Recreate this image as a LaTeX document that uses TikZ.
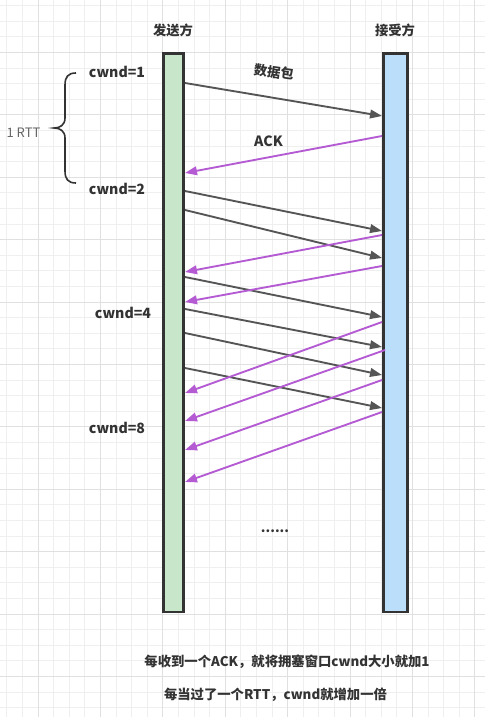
\documentclass[tikz,border=0pt]{standalone}
\usepackage{fontspec}
\setmainfont{Noto Sans CJK SC}
\usetikzlibrary{arrows.meta}
\definecolor{greenfill}{HTML}{C8E6C9}
\definecolor{bluefill}{HTML}{BBDEFB}
\definecolor{ackcol}{HTML}{B45AD2}
\definecolor{datacol}{HTML}{555555}
\definecolor{edgecol}{HTML}{333333}
\definecolor{txtcol}{HTML}{333333}
\definecolor{rttcol}{HTML}{666666}
\definecolor{gridminorcol}{HTML}{EFEFEF}
\definecolor{gridmajorcol}{HTML}{E0E0E0}
\begin{document}
\begin{tikzpicture}[x=0.75pt,y=-0.75pt,
  bar/.style={draw=edgecol, line width=1.9pt, inner sep=0pt, minimum height=418.9pt},
  lbl/.style={text=txtcol, font=\fontsize{10}{12}\selectfont\bfseries, inner sep=1pt},
  cwndlbl/.style={text=txtcol, font=\fontsize{10.6}{12}\selectfont\bfseries, inner sep=1pt},
  rtt/.style={text=rttcol, font=\fontsize{9.75}{12}\selectfont, inner sep=1pt},
  datarrow/.style={draw=datacol, line width=1.4pt, -{Triangle[length=9pt,width=6.5pt]}},
  ackarrow/.style={draw=ackcol, line width=1.4pt, -{Triangle[length=9pt,width=6.5pt]}},
  gminor/.style={draw=gridminorcol, line width=0.75pt},
  gmajor/.style={draw=gridmajorcol, line width=0.75pt}]
\useasboundingbox (0,0) rectangle (485,717);
\fill[white] (0,0) rectangle (485,717);
% grid
\foreach \i in {0,...,31} {
  \pgfmathsetmacro\gx{6.8+15.6*\i}
  \draw[gminor] (\gx,0) -- (\gx,717);
}
\foreach \i in {0,...,46} {
  \pgfmathsetmacro\gy{5.7+15.6*\i}
  \draw[gminor] (0,\gy) -- (485,\gy);
}
\foreach \i in {0,...,7} {
  \pgfmathsetmacro\gx{38+62.4*\i}
  \draw[gmajor] (\gx,0) -- (\gx,717);
}
\foreach \i in {0,...,10} {
  \pgfmathsetmacro\gy{52.5+62.4*\i}
  \draw[gmajor] (0,\gy) -- (485,\gy);
}
% bars
\node[bar, fill=greenfill, minimum width=15pt] (sender) at (173.5,332.75) {};
\node[bar, fill=bluefill, minimum width=18pt] (receiver) at (395.5,332.75) {};
% headers
\node[lbl] (snd) at (173,30) {发送方};
\node[lbl] (rcv) at (395,30) {接受方};
% cwnd labels
\node[cwndlbl] (c1) at (117,72) {cwnd=1};
\node[cwndlbl] (c2) at (117,189) {cwnd=2};
\node[cwndlbl] (c4) at (123,313) {cwnd=4};
\node[cwndlbl] (c8) at (117,428) {cwnd=8};
% brace
\draw[edgecol, line width=1.2pt] (76,73) .. controls (68,73) and (65,77) .. (65,85) -- (65,118)
  .. controls (65,125) and (60,128) .. (54,128)
  .. controls (60,128) and (65,131) .. (65,138) -- (65,171)
  .. controls (65,179) and (68,183) .. (76,183);
\node[rtt] (rttlbl) at (23.5,133) {1 RTT};
% arrow labels
\node[lbl, rotate=-8] (pkt) at (274,72) {数据包};
\node[cwndlbl] (ack) at (268.5,141) {ACK};
% endpoints
\coordinate (d1s) at (185,83);  \coordinate (d1e) at (382,116);
\coordinate (d2s) at (185,191); \coordinate (d2e) at (382,231);
\coordinate (d3s) at (185,210); \coordinate (d3e) at (382,258);
\coordinate (d4s) at (185,277); \coordinate (d4e) at (382,317);
\coordinate (d5s) at (185,309); \coordinate (d5e) at (382,347);
\coordinate (d6s) at (185,333); \coordinate (d6e) at (382,375);
\coordinate (d7s) at (185,368); \coordinate (d7e) at (382,408);
\coordinate (a1s) at (382,136); \coordinate (a1e) at (185,173);
\coordinate (a2s) at (382,235); \coordinate (a2e) at (185,272);
\coordinate (a3s) at (382,266); \coordinate (a3e) at (185,302);
\coordinate (a4s) at (382,322); \coordinate (a4e) at (185,393);
\coordinate (a5s) at (385,350); \coordinate (a5e) at (185,421);
\coordinate (a6s) at (382,380); \coordinate (a6e) at (185,450);
\coordinate (a7s) at (382,412); \coordinate (a7e) at (185,482);
\foreach \k in {1,...,7} {\draw[datarrow] (d\k s) -- (d\k e);}
\foreach \k in {1,...,7} {\draw[ackarrow] (a\k s) -- (a\k e);}
% dots
\node[lbl] (dots) at (275,531) {......};
% bottom notes
\node[lbl] (note1) at (287,662) {每收到一个ACK，就将拥塞窗口cwnd大小就加1};
\node[lbl] (note2) at (275.5,695) {每当过了一个RTT，cwnd就增加一倍};
\end{tikzpicture}
\end{document}
